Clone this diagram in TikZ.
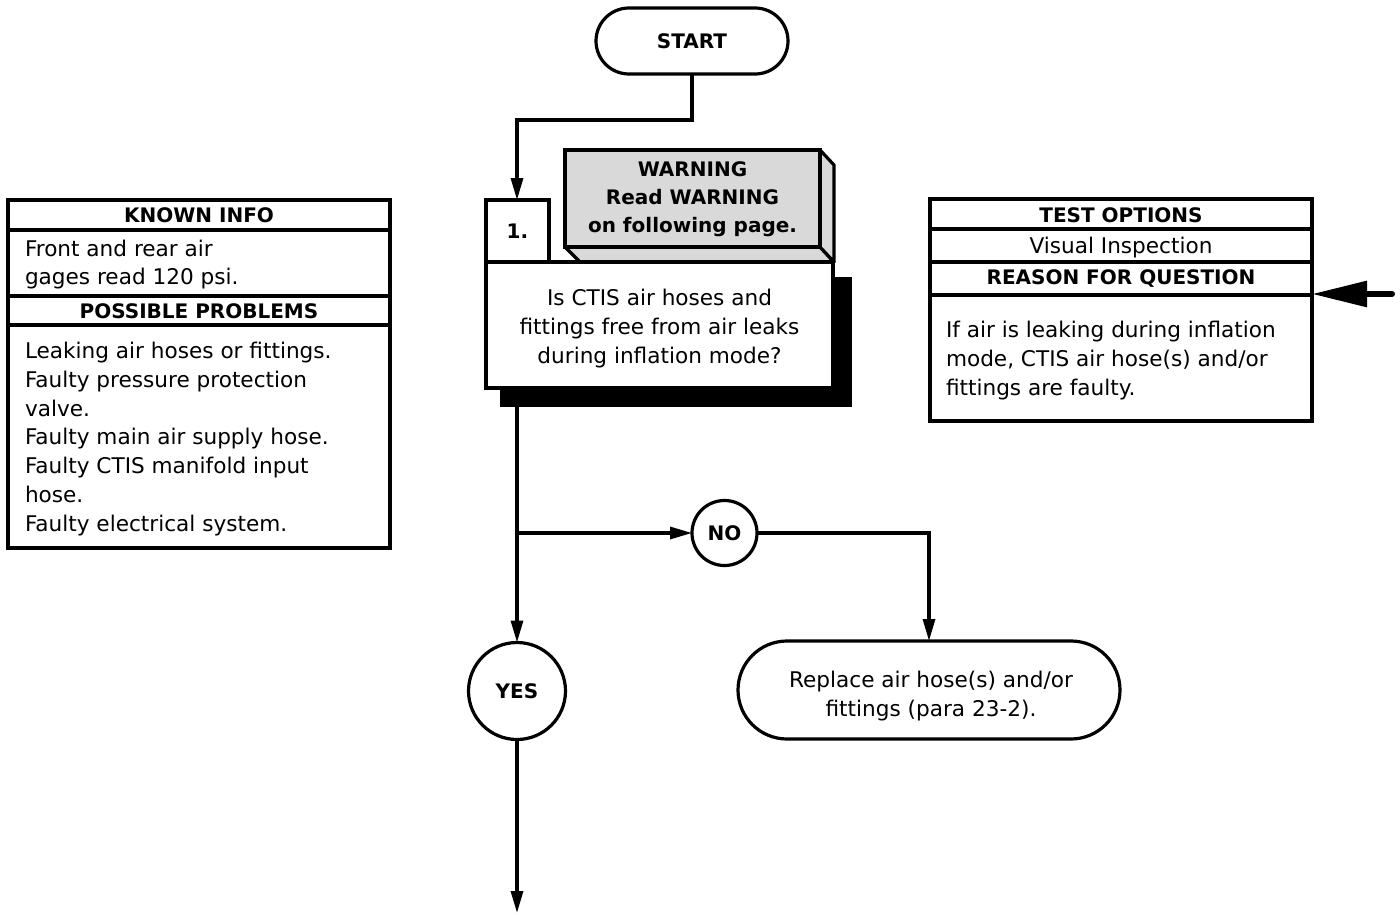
\documentclass[tikz,border=0pt]{standalone}
\usepackage{fontspec}
\setmainfont{DejaVu Sans}
\usetikzlibrary{shapes.misc,arrows.meta,calc}
\newcommand{\reg}{\fontsize{21.6}{29}\selectfont}
\newcommand{\hdr}{\fontsize{20}{28}\selectfont\bfseries}
\begin{document}
\begin{tikzpicture}[x=1pt,y=-1pt,
  every node/.style={inner sep=0pt, outer sep=0pt},
  bx/.style={draw, line width=3.2pt, fill=white},
  conn/.style={line width=3.2pt, -{Triangle[length=22pt,width=12pt]}},
  plain/.style={line width=3.2pt},
  hd/.style={font=\hdr},
  txt/.style={font=\reg, align=left, anchor=north west},
  ctxt/.style={font=\reg, align=center},
]
\useasboundingbox (0,0) rectangle (1400,915);

% START
\node[bx, rounded rectangle, minimum width=192pt, minimum height=66pt, font=\hdr] (start) at (692,41) {START};

% shadow of question box
\fill (500,277) rectangle (852,407);
% question box
\node[bx, minimum width=347pt, minimum height=126pt] (q1) at (659.5,325) {};
\node[ctxt] (q1t) at (659.5,329) {Is CTIS air hoses and\\fittings free from air leaks\\during inflation mode?};
\node[bx, minimum width=63pt, minimum height=62pt, font=\hdr] (q1num) at (517.5,231) {1.};

% warning 3D box
\filldraw[fill=black!15, line width=3.2pt, line join=round] (565,247) -- (820,247) -- (834,262) -- (580,262) -- cycle;
\filldraw[fill=black!15, line width=3.2pt, line join=round] (820,150) -- (834,165) -- (834,262) -- (820,247) -- cycle;
\node[draw, line width=3.2pt, fill=black!15, minimum width=255pt, minimum height=97pt] (warn) at (692.5,198.5) {};
\node[font=\hdr, align=center] (warnt) at (692.5,199) {WARNING\\Read WARNING\\on following page.};
\draw[line width=3.2pt] (486,262) -- (833,262);

% connectors
\coordinate (bend1) at (517,120);
\draw[conn] (start.south) |- (bend1) -- (bend1 |- q1num.north);

\node[bx, circle, minimum size=97pt, font=\hdr] (yes) at (517,691) {YES};
\node[bx, circle, minimum size=65pt, font=\hdr] (no) at (724.5,533) {NO};
\node[bx, rounded rectangle, minimum width=382pt, minimum height=98pt] (replace) at (929,690) {};
\node[ctxt] (replacet) at (931,696) {Replace air hose(s) and/or\\fittings (para 23-2).};

\coordinate (qout) at (517,407);
\coordinate (br) at (517,533);
\coordinate (endpt) at (517,913);
\draw[conn] (qout) -- (yes.north);
\draw[conn] (br) -- (no.west);
\draw[conn] (no.east) -| (replace.north);
\draw[conn] (yes.south) -- (endpt);

% KNOWN INFO box
\draw[bx] (8,200) rectangle (390,548);
\draw[plain] (8,230) -- (390,230);
\draw[plain] (8,296) -- (390,296);
\draw[plain] (8,325) -- (390,325);
\node[hd] (kih) at (199,215) {KNOWN INFO};
\node[txt, font=\fontsize{21.6}{28}\selectfont] (kit) at (25,240) {Front and rear air\\gages read 120 psi.};
\node[hd] (pph) at (199,311) {POSSIBLE PROBLEMS};
\node[txt, font=\fontsize{21.6}{28.8}\selectfont] (ppt) at (25,342) {Leaking air hoses or fittings.\\Faulty pressure protection\\valve.\\Faulty main air supply hose.\\Faulty CTIS manifold input\\hose.\\Faulty electrical system.};

% TEST OPTIONS box
\draw[bx] (930,199) rectangle (1312,421);
\draw[plain] (930,229) -- (1312,229);
\draw[plain] (930,262) -- (1312,262);
\draw[plain] (930,295) -- (1312,295);
\node[hd] (toh) at (1121,215) {TEST OPTIONS};
\node[font=\reg] (tot) at (1121,248) {Visual Inspection};
\node[hd] (rqh) at (1121,279) {REASON FOR QUESTION};
\node[txt] (rqt) at (946,321) {If air is leaking during inflation\\mode, CTIS air hose(s) and/or\\fittings are faulty.};

\coordinate (rin) at (1392,294);
\coordinate (rout) at (1312,294);
\draw[line width=6pt, line cap=round, -{Triangle[length=55pt,width=25pt]}] (rin) -- (rout);
\end{tikzpicture}
\end{document}
